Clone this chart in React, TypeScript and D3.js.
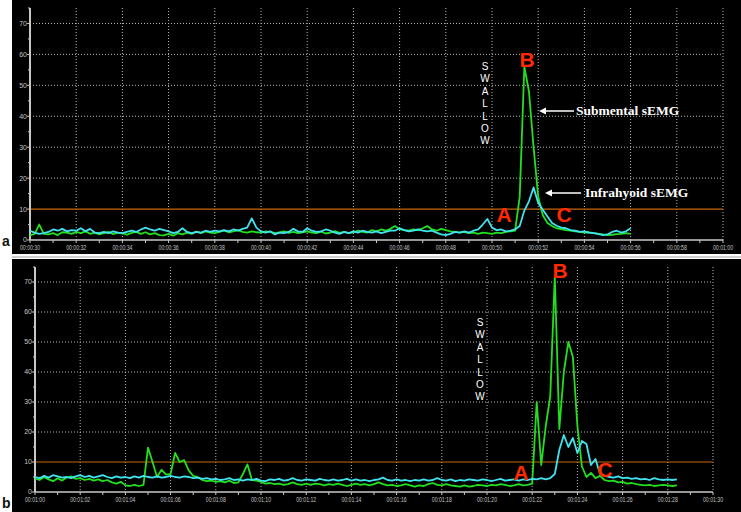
import * as d3 from 'd3'

// sampled every 0.2 s
const sampleStep = 0.2

// panel a: 00:00:30 .. 00:00:56
const submentalA = [
  1.5, 2.0, 5.0, 2.0, 1.8, 2.2, 1.6, 2.5, 2.4, 2.0,
  2.6, 2.2, 2.8, 2.0, 2.4, 1.8, 2.2, 2.6, 1.9, 2.4,
  2.1, 1.7, 2.3, 2.6, 2.0, 2.5, 1.8, 2.2, 1.6, 1.5,
  2.0, 1.4, 2.2, 1.8, 2.4, 2.0, 2.7, 2.2, 2.8, 2.4,
  2.2, 2.6, 3.0, 2.5, 2.8, 3.2, 2.6, 2.4, 2.8, 2.5,
  2.4, 2.8, 2.6, 2.2, 2.5, 2.8, 2.3, 2.6, 2.2, 2.5,
  2.8, 2.4, 2.2, 2.7, 2.1, 2.4, 2.9, 2.3, 2.6, 2.2,
  2.5, 3.0, 2.6, 2.4, 3.2, 2.8, 3.4, 3.0, 3.6, 4.5,
  3.5, 3.2, 3.0, 3.4, 3.2, 3.8, 4.5, 3.4, 3.0, 3.6,
  3.2, 2.8, 2.6, 2.4, 2.6, 2.2, 2.4, 2.0, 2.4, 2.2,
  2.0, 2.4, 2.2, 2.6, 2.8, 3.0, 14.0, 56.0, 48.0, 30.0,
  14.0, 8.0, 5.5, 4.5, 3.8, 3.5, 3.2, 3.0, 2.8, 2.6,
  2.4, 2.5, 2.2, 2.0, 1.8, 1.6, 1.7, 1.9, 2.0, 2.2,
  2.0,
]

const infrahyoidA = [
  3.0, 2.4, 2.0, 2.2, 2.6, 3.4, 3.0, 3.6, 2.8, 3.2,
  3.0, 3.8, 2.8, 3.6, 2.4, 2.2, 2.6, 2.2, 2.8, 2.4,
  2.2, 2.6, 3.0, 2.6, 3.4, 4.0, 3.4, 3.0, 3.6, 3.2,
  2.8, 2.2, 2.6, 3.8, 2.6, 2.2, 2.6, 2.4, 3.0, 2.6,
  3.0, 2.8, 3.2, 2.8, 3.4, 3.0, 3.6, 4.0, 7.0, 4.0,
  2.8, 2.4, 2.8, 1.8, 2.4, 2.2, 2.6, 3.6, 2.8, 2.6,
  3.8, 3.0, 2.6, 2.8, 3.4, 3.0, 2.4, 2.0, 2.6, 2.2,
  2.8, 2.4, 3.0, 2.6, 2.4, 2.8, 2.2, 2.6, 3.0, 3.0,
  3.8, 3.2, 2.8, 3.0, 3.4, 3.0, 2.8, 3.0, 2.4, 1.8,
  1.6, 2.0, 2.6, 2.4, 2.8, 2.4, 3.0, 3.4, 5.0, 6.8,
  4.0, 3.2, 3.4, 2.8, 3.0, 3.4, 4.5, 9.5, 12.5, 17.0,
  12.0, 9.8, 7.6, 5.5, 4.6, 4.0, 3.8, 3.2, 3.0, 2.6,
  2.8, 2.4, 2.2, 2.0, 1.6, 1.8, 2.6, 3.0, 2.4, 2.8,
  3.8,
]

// panel b: 00:01:00 .. 00:01:28.4
const submentalB = [
  4.5, 4.0, 5.0, 4.2, 3.6, 4.6, 3.8, 4.8, 5.2, 4.4,
  4.6, 4.0, 4.4, 3.8, 4.2, 3.6, 4.0, 3.2, 2.8, 3.4,
  2.2, 2.0, 2.4, 2.0, 2.4, 14.8, 10.0, 5.0, 7.4, 5.8,
  6.0, 13.0, 10.0, 10.6, 7.2, 5.4, 5.0, 4.0, 3.6, 3.8,
  3.4, 3.6, 3.2, 3.8, 3.0, 3.2, 6.0, 9.2, 4.0, 3.8,
  3.4, 2.8, 3.0, 2.6, 2.8, 2.4, 2.6, 3.2, 2.6, 2.4,
  2.8, 2.4, 2.8, 2.6, 2.2, 2.6, 2.4, 2.8, 2.4, 2.0,
  2.4, 2.8, 2.4, 2.6, 2.2, 2.6, 3.2, 2.6, 2.2, 2.4,
  2.0, 2.2, 2.6, 2.2, 1.8, 2.2, 2.0, 2.6, 3.0, 2.4,
  2.2, 2.6, 2.2, 2.0, 1.8, 2.2, 1.8, 2.0, 2.4, 2.2,
  2.0, 2.4, 2.2, 2.6, 2.4, 2.0, 2.2, 2.6, 2.2, 2.4,
  2.8, 30.0, 9.0, 22.0, 32.0, 72.0, 21.0, 40.0, 50.0, 45.0,
  22.0, 8.5, 5.0, 6.4, 4.6, 5.4, 4.0, 3.6, 3.8, 3.2,
  3.4, 2.8, 3.0, 2.6, 2.4, 2.2, 2.4, 2.0, 2.2, 2.4,
  2.2, 2.0, 2.2,
]

const infrahyoidB = [
  5.0, 4.6, 5.4, 4.8, 5.6, 5.2, 4.8, 5.0, 4.6, 5.2,
  5.6, 5.0, 5.4, 4.8, 5.2, 5.6, 5.0, 4.6, 5.2, 4.8,
  5.0, 4.6, 5.2, 4.8, 5.4, 5.0, 4.8, 5.2, 4.8, 5.0,
  5.4, 5.0, 4.8, 5.2, 5.0, 4.6, 4.8, 4.4, 4.6, 4.2,
  4.4, 4.0, 4.2, 4.6, 4.0, 4.2, 3.8, 4.2, 4.0, 4.4,
  3.8, 3.6, 4.2, 4.0, 4.4, 3.8, 4.0, 4.6, 4.0, 3.8,
  4.2, 4.0, 3.8, 4.4, 4.0, 3.8, 4.2, 3.8, 4.0, 4.4,
  3.8, 4.2, 3.8, 4.0, 3.6, 4.0, 4.2, 4.8, 4.0, 3.8,
  4.2, 3.8, 4.0, 3.6, 4.0, 3.8, 4.2, 3.8, 4.0, 4.6,
  4.0, 3.8, 4.2, 3.6, 4.0, 3.8, 4.2, 4.0, 3.8, 4.2,
  4.0, 3.6, 4.0, 4.4, 3.8, 4.0, 4.2, 3.8, 4.2, 4.0,
  4.4, 4.2, 4.6, 4.2, 4.6, 6.0, 14.0, 19.0, 15.0, 18.0,
  13.0, 17.0, 16.0, 9.0, 11.0, 6.0, 5.4, 5.0, 4.8, 5.2,
  4.6, 4.8, 4.4, 4.6, 4.2, 4.4, 4.0, 4.6, 4.2, 4.0,
  4.2, 4.0, 4.2,
]

const yTicks = [0, 10, 20, 30, 40, 50, 60, 70]
const yMinor = [5, 15, 25, 35, 45, 55, 65, 75]
const threshold = 10
const swallowLetters = ['S', 'W', 'A', 'L', 'L', 'O', 'W']

const GREEN = '#22e01e'
const CYAN = '#40e4f0'
const RED = '#ff2a00'

const pad = (n: number) => String(n).padStart(2, '0')
const fmtTime = (t: number) => `00:${pad(Math.floor(t / 60))}:${pad(Math.round(t % 60))}`

interface PanelCfg {
  tag: string
  top: number
  height: number
  axisX: number
  axisEnd: number
  zeroY: number
  topY: number
  domain: [number, number]
  green: number[]
  cyan: number[]
  tagPos: [number, number]
  swallow: [number, number]
  marks: { t: string; x: number; y: number }[]
  notes: { text: string; x: number; y: number; from: number; to: number }[]
}

const panels: PanelCfg[] = [
  {
    tag: 'a', top: 0, height: 254, axisX: 30, axisEnd: 723, zeroY: 240, topY: 8,
    domain: [30, 60], green: submentalA, cyan: infrahyoidA,
    tagPos: [2, 246], swallow: [485, 70],
    marks: [{ t: 'B', x: 527, y: 67 }, { t: 'A', x: 504, y: 222 }, { t: 'C', x: 564, y: 222 }],
    notes: [
      { text: 'Submental sEMG', x: 576, y: 115, from: 574, to: 539 },
      { text: 'Infrahyoid sEMG', x: 585, y: 197, from: 581, to: 545 },
    ],
  },
  {
    tag: 'b', top: 259, height: 253, axisX: 35, axisEnd: 713, zeroY: 492, topY: 267,
    domain: [60, 90], green: submentalB, cyan: infrahyoidB,
    tagPos: [2, 508], swallow: [480, 326],
    marks: [{ t: 'B', x: 560, y: 278 }, { t: 'A', x: 521, y: 480 }, { t: 'C', x: 605, y: 477 }],
    notes: [],
  },
]

function Panel({ p }: { p: PanelCfg }) {
  const x = d3.scaleLinear().domain(p.domain).range([p.axisX, p.axisEnd])
  const y = d3.scaleLinear().domain([0, 75]).range([p.zeroY, p.topY])
  const line = d3.line<number>()
    .x((_, i) => x(p.domain[0] + i * sampleStep))
    .y(d => y(d))
  const major = d3.range(p.domain[0], p.domain[1] + 0.01, 2)
  const minor = d3.range(p.domain[0], p.domain[1] + 0.01, 1)

  return (
    <g>
      <rect x={12} y={p.top} width={729} height={p.height} fill="#000" />
      <text x={p.tagPos[0]} y={p.tagPos[1]} fontFamily="Arial, sans-serif" fontWeight="bold" fontSize={14} fill="#111">{p.tag}</text>

      {/* grid */}
      {yTicks.filter(v => v >= 20).map(v => (
        <line key={'h' + v} x1={p.axisX} x2={p.axisEnd} y1={y(v)} y2={y(v)} stroke="#b8b8b8" strokeDasharray="1 2" />
      ))}
      {major.slice(1).map(t => (
        <line key={'v' + t} x1={x(t)} x2={x(t)} y1={y(75)} y2={y(0)} stroke="#b8b8b8" strokeDasharray="1 2" />
      ))}
      <line x1={p.axisX} x2={p.axisEnd} y1={y(threshold)} y2={y(threshold)} stroke="#c8640a" strokeWidth={1.2} />

      {/* y axis */}
      <line x1={p.axisX} x2={p.axisX} y1={y(0)} y2={y(75)} stroke="#c8c8c8" strokeWidth={2} />
      {yTicks.map(v => (
        <g key={'yt' + v}>
          <line x1={p.axisX - 3} x2={p.axisX} y1={y(v)} y2={y(v)} stroke="#c8c8c8" />
          <text x={p.axisX - 3} y={y(v)} dy="0.35em" textAnchor="end" fontFamily="Arial, sans-serif" fontSize={7} fill="#c4c4c4">{v}</text>
        </g>
      ))}
      {yMinor.map(v => (
        <line key={'ym' + v} x1={p.axisX - 2} x2={p.axisX} y1={y(v)} y2={y(v)} stroke="#c8c8c8" />
      ))}

      {/* x axis */}
      <line x1={p.axisX} x2={p.axisEnd} y1={y(0)} y2={y(0)} stroke="#c8c8c8" strokeWidth={1.5} />
      {minor.map(t => (
        <line key={'xm' + t} x1={x(t)} x2={x(t)} y1={y(0)} y2={y(0) + 3} stroke="#c8c8c8" />
      ))}
      {major.map(t => (
        <text key={'xl' + t} x={x(t)} y={y(0) + 10} textAnchor="middle" fontFamily="Arial, sans-serif" fontSize={7}
          fill="#c4c4c4" textLength={20} lengthAdjust="spacingAndGlyphs">{fmtTime(t)}</text>
      ))}

      {/* signals */}
      <path d={line(p.green) ?? ''} fill="none" stroke={GREEN} strokeWidth={1.8} strokeLinejoin="round" />
      <path d={line(p.cyan) ?? ''} fill="none" stroke={CYAN} strokeWidth={1.8} strokeLinejoin="round" />

      {/* annotations */}
      {swallowLetters.map((c, i) => (
        <text key={'s' + i} x={p.swallow[0]} y={p.swallow[1] + i * 12.4} textAnchor="middle"
          fontFamily="Arial, sans-serif" fontSize={10} fill="#fff">{c}</text>
      ))}
      {p.marks.map(m => (
        <text key={m.t} x={m.x} y={m.y} textAnchor="middle" fontFamily="Arial, sans-serif" fontWeight="bold"
          fontSize={21} fill={RED}>{m.t}</text>
      ))}
      {p.notes.map(n => (
        <g key={n.text}>
          <line x1={n.from} x2={n.to + 5} y1={n.y - 4} y2={n.y - 4} stroke="#fff" strokeWidth={1.5} />
          <path d={`M${n.to},${n.y - 4}L${n.to + 7},${n.y - 7.5}L${n.to + 7},${n.y - 0.5}Z`} fill="#fff" />
          <text x={n.x} y={n.y} fontFamily="'Liberation Serif', 'Times New Roman', serif" fontWeight="bold"
            fontSize={13.5} fill="#fff">{n.text}</text>
        </g>
      ))}
    </g>
  )
}

export default function App() {
  return (
    <svg width={741} height={512} style={{ position: 'absolute', left: 0, top: 0, background: '#fff' }}>
      <rect x={12} y={256} width={729} height={2} fill="#cfcfcf" />
      {panels.map(p => <Panel key={p.tag} p={p} />)}
    </svg>
  )
}
